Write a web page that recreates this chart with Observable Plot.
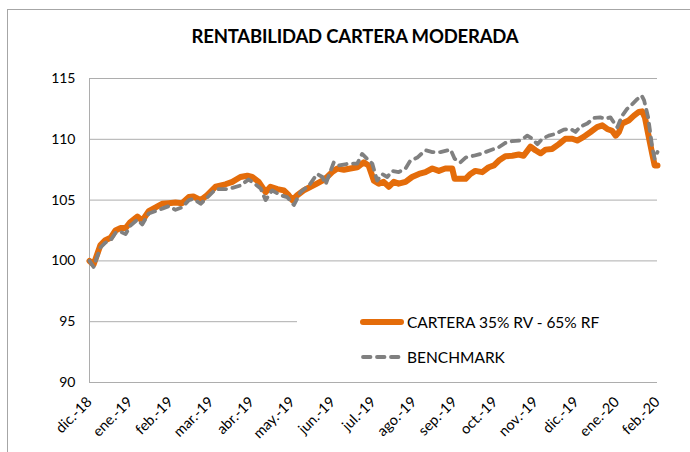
<!DOCTYPE html>
<html>
<head>
<meta charset="utf-8">
<script src="https://cdn.jsdelivr.net/npm/d3@7"></script>
<script src="https://cdn.jsdelivr.net/npm/@observablehq/plot@0.6"></script>
<style>
  html, body { margin: 0; padding: 0; background: #fff; overflow: hidden; }
  #wrap { position: relative; width: 690px; height: 452px; font-family: Lato, "Open Sans", sans-serif; }
  #frame { position: absolute; left: 7px; top: 9px; width: 800px; height: 600px; border: 1px solid #A6A6A6; box-sizing: border-box; pointer-events: none; }
  #title { position: absolute; left: 0; width: 710px; top: 25px; text-align: center; font-weight: bold; font-size: 18.5px; color: #000; letter-spacing: -0.2px; }
  #chart { position: absolute; left: 0; top: 0; }
  #legend { position: absolute; left: 297px; top: 300px; }
</style>
</head>
<body>
<div id="wrap">
  <div id="chart"></div>
  <div id="frame"></div>
  <div id="title">RENTABILIDAD CARTERA MODERADA</div>
  <div id="legend"></div>
</div>
<script>
// Month tick labels (one per month, dic-18 .. feb-20)
const months = ["dic.-18","ene.-19","feb.-19","mar.-19","abr.-19","may.-19","jun.-19","jul.-19","ago.-19","sep.-19","oct.-19","nov.-19","dic.-19","ene.-20","feb.-20"];
const yTicks = [90, 95, 100, 105, 110, 115];

// Series names
const seriesNames = ["CARTERA 35% RV - 65% RF", "BENCHMARK"];

// CARTERA: position in months since dic.-18, value
const carteraT = [0,0.10,0.27,0.39,0.52,0.64,0.76,0.89,1.01,1.18,1.30,1.46,1.63,1.79,1.95,2.12,2.28,2.45,2.56,2.74,2.90,3.11,3.35,3.52,3.72,3.89,4.01,4.17,4.34,4.46,4.63,4.79,4.91,5.00,5.12,5.28,5.45,5.57,5.74,5.86,5.98,6.11,6.27,6.43,6.60,6.76,6.88,7.01,7.13,7.25,7.38,7.50,7.62,7.79,7.95,8.12,8.28,8.45,8.61,8.77,8.94,9.00,9.14,9.27,9.39,9.51,9.68,9.84,9.97,10.09,10.25,10.42,10.58,10.70,10.87,10.99,11.12,11.24,11.40,11.57,11.73,11.90,12.02,12.18,12.35,12.51,12.64,12.76,12.88,12.97,13.05,13.13,13.29,13.42,13.54,13.62,13.69,13.77,13.87,13.93,14.00];
const carteraV = [100.0,99.7,101.3,101.7,101.9,102.5,102.7,102.7,103.2,103.65,103.3,104.1,104.4,104.7,104.75,104.8,104.75,105.25,105.3,105.0,105.4,106.1,106.3,106.5,106.9,107.0,106.9,106.5,105.65,106.1,105.9,105.8,105.4,105.0,105.4,105.8,106.1,106.3,106.6,106.9,107.3,107.6,107.5,107.6,107.7,108.1,107.85,106.6,106.35,106.5,106.1,106.5,106.35,106.5,106.9,107.15,107.3,107.6,107.4,107.6,107.6,106.75,106.75,106.75,107.15,107.4,107.3,107.7,107.85,108.25,108.6,108.65,108.75,108.65,109.4,109.1,108.85,109.15,109.2,109.6,110.05,110.05,109.9,110.2,110.6,111.0,111.15,110.85,110.7,110.3,110.6,111.3,111.55,111.95,112.25,112.3,111.8,110.45,108.8,107.85,107.85];

// BENCHMARK
const benchT = [0,0.10,0.27,0.39,0.52,0.64,0.76,0.89,1.01,1.18,1.30,1.46,1.63,1.79,1.95,2.12,2.28,2.45,2.56,2.74,2.90,3.11,3.35,3.52,3.72,3.92,4.09,4.22,4.34,4.50,4.71,4.87,5.04,5.20,5.41,5.61,5.74,5.82,6.02,6.14,6.39,6.60,6.72,6.84,6.97,7.09,7.21,7.34,7.46,7.62,7.79,7.91,8.08,8.28,8.45,8.65,8.90,9.00,9.14,9.27,9.47,9.64,9.88,10.09,10.25,10.42,10.62,10.79,10.91,11.04,11.16,11.32,11.49,11.69,11.86,11.98,12.10,12.27,12.43,12.59,12.72,12.84,12.92,13.01,13.13,13.25,13.38,13.50,13.61,13.67,13.77,13.87,13.93,14.00];
const benchV = [100.0,99.5,101.1,101.5,101.7,102.3,102.4,102.2,102.9,103.4,103.0,103.9,104.1,104.3,104.5,104.2,104.4,105.0,105.1,104.7,105.2,105.9,105.9,106.0,106.2,106.7,106.3,105.95,105.0,105.8,105.4,105.25,104.6,105.65,106.2,107.15,106.9,106.3,108.1,107.85,108.0,108.0,108.8,108.4,108.0,106.6,107.15,106.9,107.4,107.3,107.6,108.25,108.5,109.1,108.95,108.95,109.15,108.4,108.1,108.5,108.65,108.8,109.1,109.35,109.7,109.85,109.9,110.3,110.05,109.6,110.05,110.3,110.45,110.8,110.85,110.6,111.05,111.3,111.75,111.8,111.7,111.8,111.4,111.0,111.95,112.5,112.9,113.3,113.6,113.2,111.8,109.35,108.4,108.95];

const cartera = carteraT.map((t, i) => ({t, v: carteraV[i]}));
const bench = benchT.map((t, i) => ({t, v: benchV[i]}));

const ORANGE = "#E46C0A";
const GRAY = "#808080";
const GRID = "#ADADAD";
const DASH = "7.5,6.5";

const chart = Plot.plot({
  width: 690,
  height: 452,
  marginLeft: 89,
  marginRight: 33,
  marginTop: 78,
  marginBottom: 70,
  style: {fontFamily: "Lato, 'Open Sans', sans-serif", fontSize: "14px", color: "#000", background: "transparent"},
  x: {domain: [0, 14], label: null},
  y: {domain: [90, 115], label: null},
  marks: [
    Plot.ruleY(yTicks, {stroke: GRID, strokeWidth: 1}),
    Plot.ruleX([0], {y1: 90, y2: 115, stroke: GRID, strokeWidth: 1}),
    Plot.line(cartera, {x: "t", y: "v", stroke: ORANGE, strokeWidth: 6, strokeLinejoin: "round", strokeLinecap: "round"}),
    Plot.line(bench, {x: "t", y: "v", stroke: GRAY, strokeWidth: 3.8, strokeDasharray: DASH, strokeLinecap: "round", strokeLinejoin: "round"}),
    Plot.axisY({ticks: yTicks, tickSize: 0, tickPadding: 14, tickFormat: d => String(d), fontSize: 14, label: null}),
    Plot.axisX({ticks: d3.range(months.length), tickFormat: i => months[i], tickSize: 0, tickPadding: 17, tickRotate: -45, fontSize: 14.5, label: null})
  ]
});
document.getElementById("chart").appendChild(chart);

// Legend (white box covering gridline behind it, like the original)
const lg = d3.select("#legend").append("svg")
  .attr("width", 360).attr("height", 78)
  .style("background", "#fff")
  .style("font-family", "Lato, 'Open Sans', sans-serif");
const items = [
  {name: seriesNames[0], color: ORANGE, width: 6, dash: null, y: 22},
  {name: seriesNames[1], color: GRAY, width: 3.8, dash: DASH, y: 57}
];
for (const it of items) {
  const ln = lg.append("line")
    .attr("x1", 66).attr("x2", 104).attr("y1", it.y).attr("y2", it.y)
    .attr("stroke", it.color).attr("stroke-width", it.width).attr("stroke-linecap", "round");
  if (it.dash) ln.attr("stroke-dasharray", it.dash);
  lg.append("text").attr("x", 110).attr("y", it.y).attr("dy", "0.36em")
    .attr("font-size", 15.5).attr("fill", "#000").text(it.name);
}
</script>
</body>
</html>
